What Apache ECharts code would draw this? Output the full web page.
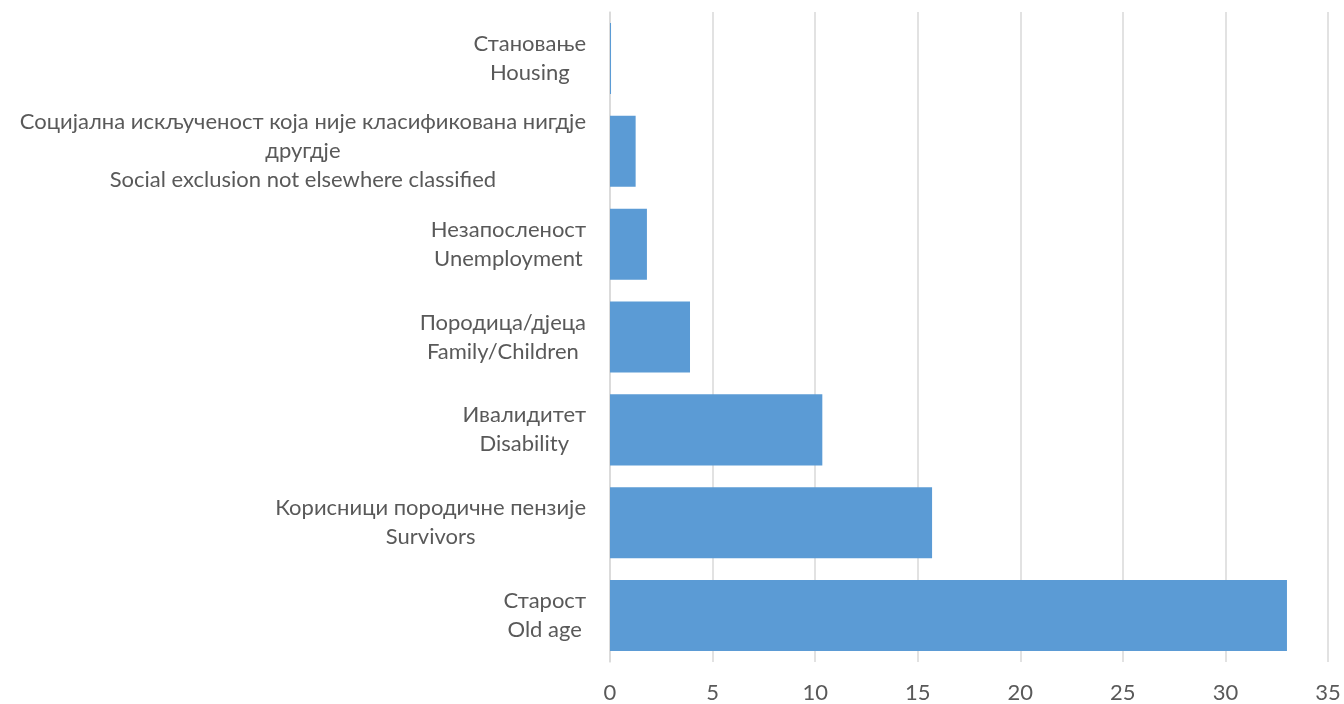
<!DOCTYPE html>
<html><head><meta charset="utf-8">
<script src="https://cdn.jsdelivr.net/npm/echarts@6/dist/echarts.min.js"></script>
<style>html,body{margin:0;padding:0;background:#fff}#c{width:1344px;height:704px}</style>
</head><body><div id="c"></div>
<script>
const categories = [
  "Старост\nOld age",
  "Корисници породичне пензије\nSurvivors",
  "Ивалидитет\nDisability",
  "Породица/дјеца\nFamily/Children",
  "Незапосленост\nUnemployment",
  "Социјална искљученост која није класификована нигдје\nдругдје\nSocial exclusion not elsewhere classified",
  "Становање\nHousing"
];
const values = [33.0, 15.7, 10.35, 3.9, 1.8, 1.25, 0.05];
const xTicks = [0, 5, 10, 15, 20, 25, 30, 35];

const chart = echarts.init(document.getElementById('c'));
const FONT = 'Lato';
chart.setOption({
  animation: false,
  grid: { left: 610, right: 16, top: 12, bottom: 42, containLabel: false },
  xAxis: {
    type: 'value', min: xTicks[0], max: xTicks[xTicks.length - 1], interval: 5,
    axisLine: { show: false }, axisTick: { show: false },
    splitLine: { show: true, lineStyle: { color: '#D9D9D9', width: 1.5 } },
    axisLabel: { color: '#595959', fontSize: 22, fontFamily: FONT, margin: 20 }
  },
  yAxis: {
    type: 'category', data: categories,
    axisLine: { show: true, lineStyle: { color: '#D9D9D9', width: 1.5 } },
    axisTick: { show: false },
    axisLabel: {
      color: '#595959', fontSize: 22, fontFamily: FONT, margin: 24, align: 'right',
      formatter: v => v.split('\n').map(s => '{c|' + s + '}').join('\n'),
      rich: { c: { align: 'center', color: '#595959', fontSize: 22, fontFamily: FONT, lineHeight: 29 } }
    }
  },
  series: [{
    type: 'bar', data: values, barCategoryGap: '23.5%',
    itemStyle: { color: '#5B9BD5' }
  }]
});
</script></body></html>
